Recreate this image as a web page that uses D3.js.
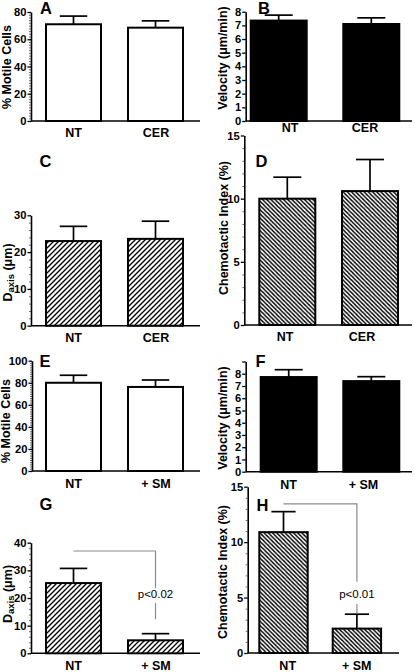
<!DOCTYPE html>
<html><head><meta charset="utf-8">
<script src="https://cdn.jsdelivr.net/npm/d3@7/dist/d3.min.js"></script>
<style>body{margin:0;background:#fff}svg{display:block}</style>
</head><body>
<script>
// ---------- data ----------
const groupsCER = ["NT", "CER"];
const groupsSM = ["NT", "+ SM"];

const motileCER = [71, 68.5];
const motileCERErr = [6, 5];
const velocityCER = [7.35, 7.1];
const velocityCERErr = [0.4, 0.45];
const daxisCER = [23, 23.6];
const daxisCERErr = [4, 4.8];
const chemoCER = [10.0, 10.6];
const chemoCERErr = [1.7, 2.5];

const motileSM = [80, 76.2];
const motileSMErr = [6.8, 6.3];
const velocitySM = [7.73, 7.4];
const velocitySMErr = [0.6, 0.36];
const daxisSM = [25.4, 4.7];
const daxisSMErr = [5.3, 2.4];
const chemoSM = [10.9, 2.2];
const chemoSMErr = [1.85, 1.3];

const ticksMotileCER = [0, 20, 40, 60, 80];
const ticksVelocityCER = [0, 1, 2, 3, 4, 5, 6, 7, 8];
const ticksDaxisCER = [0, 10, 20, 30];
const ticksChemoCER = [0, 5, 10, 15];
const ticksMotileSM = [0, 20, 40, 60, 80, 100];
const ticksVelocitySM = [0, 1, 2, 3, 4, 5, 6, 7, 8];
const ticksDaxisSM = [0, 10, 20, 30, 40];
const ticksChemoSM = [0, 5, 10, 15];

const sigDaxisSM = {label: "p<0.02", top: 37, gapTop: 23.6, textAt: 21.4, gapBottom: 18.2, end: 12.3};
const sigChemoSM = {label: "p<0.01", top: 13.45, gapTop: 6.43, textAt: 5.35, gapBottom: 4.42, end: 3.58};

// ---------- layout ----------
const W = 415, H = 672;
const FONT = "'Liberation Sans', Arial, sans-serif";
const svg = d3.select("body").append("svg").attr("width", W).attr("height", H)
  .style("font-family", FONT);

const defs = svg.append("defs");
function hatch(id, w, dir) {
  const p = defs.append("pattern").attr("id", id).attr("patternUnits", "userSpaceOnUse")
    .attr("width", w).attr("height", w);
  p.append("rect").attr("width", w).attr("height", w).attr("fill", "#fff");
  const d = dir === "/"
    ? `M0,${w} L${w},0 M${-w/2},${w/2} L${w/2},${-w/2} M${w/2},${w*1.5} L${w*1.5},${w/2}`
    : `M0,0 L${w},${w} M${-w/2},${w/2} L${w/2},${w*1.5} M${w/2},${-w/2} L${w*1.5},${w/2}`;
  p.append("path").attr("d", d).attr("stroke", "#000").attr("stroke-width", 1.35);
}
hatch("hatchFwd", 5, "/");
hatch("hatchBack", 4.2, "\\");

const panels = [
  {letter: "A", letterX: 40, letterY: 14, groups: groupsCER, values: motileCER, errs: motileCERErr,
   max: 80, ticks: ticksMotileCER, minor: 2, fill: "#fff", title: "% Motile Cells", titleX: 11, titleY: 67,
   axisX: 31, yTop: 12, y0: 121, barLeft: 46, barW: 55, gap: 27, axisEnd: 200, labelOff: 15.5, labelX: [73.5, 156]},
  {letter: "B", letterX: 258, letterY: 14, groups: groupsCER, values: velocityCER, errs: velocityCERErr,
   max: 8, ticks: ticksVelocityCER, minor: null, fill: "#000", title: "Velocity (\u03bcm/min)", titleX: 227, titleY: 58,
   axisX: 245.7, yTop: 11.7, y0: 121, barLeft: 250.7, barW: 56, gap: 36.6, axisEnd: 412, labelOff: 10.7, labelX: [290, 365]},
  {letter: "C", letterX: 39.5, letterY: 167, groups: groupsCER, values: daxisCER, errs: daxisCERErr,
   max: 30, ticks: ticksDaxisCER, minor: 2, fill: "url(#hatchFwd)", title: "DAXIS", titleX: 11.5, titleY: 272.5,
   axisX: 31, yTop: 215.3, y0: 325.7, barLeft: 46, barW: 55, gap: 27, axisEnd: 200, labelOff: 16, labelX: [73.5, 156]},
  {letter: "D", letterX: 255.5, letterY: 167, groups: groupsCER, values: chemoCER, errs: chemoCERErr,
   max: 15, ticks: ticksChemoCER, minor: 1, fill: "url(#hatchBack)", title: "Chemotactic Index (%)", titleX: 227.5, titleY: 228,
   axisX: 244.3, yTop: 135.5, y0: 325, barLeft: 259.3, barW: 56, gap: 26.7, axisEnd: 412, labelOff: 15.5, labelX: [285, 362]},
  {letter: "E", letterX: 39.5, letterY: 367, groups: groupsSM, values: motileSM, errs: motileSMErr,
   max: 100, ticks: ticksMotileSM, minor: 2, fill: "#fff", title: "% Motile Cells", titleX: 10, titleY: 421,
   axisX: 32, yTop: 360.7, y0: 471, barLeft: 46, barW: 55, gap: 27, axisEnd: 200, labelOff: 17, labelX: [73.5, 156]},
  {letter: "F", letterX: 255.5, letterY: 367, groups: groupsSM, values: velocitySM, errs: velocitySMErr,
   max: 9, ticks: ticksVelocitySM, minor: null, fill: "#000", title: "Velocity (\u03bcm/min)", titleX: 227, titleY: 418,
   axisX: 245.7, yTop: 361.5, y0: 471.7, barLeft: 260.7, barW: 56, gap: 26.6, axisEnd: 412, labelOff: 17.5, labelX: [288.5, 363.5]},
  {letter: "G", letterX: 39.5, letterY: 510, groups: groupsSM, values: daxisSM, errs: daxisSMErr,
   max: 40, ticks: ticksDaxisSM, minor: 2, fill: "url(#hatchFwd)", title: "DAXIS", titleX: 11.5, titleY: 594,
   axisX: 31, yTop: 542.7, y0: 653.3, barLeft: 46, barW: 55, gap: 27, axisEnd: 200, labelOff: 16.7, labelX: [73.5, 156], sig: sigDaxisSM},
  {letter: "H", letterX: 256.5, letterY: 510.5, groups: groupsSM, values: chemoSM, errs: chemoSMErr,
   max: 15, ticks: ticksChemoSM, minor: 1, fill: "url(#hatchBack)", title: "Chemotactic Index (%)", titleX: 226.5, titleY: 572,
   axisX: 247.7, yTop: 486.7, y0: 653, barLeft: 259.3, barW: 48.4, gap: 25, axisEnd: 399, labelOff: 17, labelX: [287.7, 356.7], sig: sigChemoSM}
];

panels.forEach(cfg => {
  const g = svg.append("g");
  const y = d3.scaleLinear().domain([0, cfg.max]).range([cfg.y0, cfg.yTop]);
  const step = cfg.barW + cfg.gap;
  const r0 = cfg.barLeft - cfg.gap / 2;
  const x = d3.scaleBand().domain(cfg.groups).range([r0, r0 + cfg.groups.length * step])
    .paddingInner(cfg.gap / step).paddingOuter(cfg.gap / (2 * step));

  // y axis (major)
  const tickVals = cfg.ticks.slice();
  if (tickVals[tickVals.length - 1] < cfg.max) tickVals.push(cfg.max);
  const yAxis = d3.axisLeft(y).tickValues(tickVals).tickSize(3.5).tickSizeOuter(0).tickPadding(1)
    .tickFormat(d => cfg.ticks.includes(d) ? d : "");
  const ya = g.append("g").attr("transform", `translate(${cfg.axisX},0)`).call(yAxis);
  ya.select(".domain").attr("stroke", "#000").attr("stroke-width", 1.6);
  ya.selectAll(".tick line").attr("stroke", "#000").attr("stroke-width", 1.3);
  ya.selectAll(".tick text").attr("font-size", 11.2).attr("font-weight", "bold").attr("fill", "#000")
    .attr("font-family", FONT);

  if (cfg.minor) {
    const minorVals = d3.range(0, cfg.max + 1e-9, cfg.minor).filter(v => !tickVals.includes(v));
    const ma = g.append("g").attr("transform", `translate(${cfg.axisX},0)`)
      .call(d3.axisLeft(y).tickValues(minorVals).tickSize(2).tickSizeOuter(0).tickFormat(""));
    ma.select(".domain").remove();
    ma.selectAll(".tick line").attr("stroke", "#444").attr("stroke-width", 0.8);
  }

  // x axis line
  g.append("line").attr("x1", cfg.axisX).attr("x2", cfg.axisEnd).attr("y1", cfg.y0).attr("y2", cfg.y0)
    .attr("stroke", "#000").attr("stroke-width", 1.6);

  // error bars
  const capW = x.bandwidth() * 0.5;
  cfg.values.forEach((v, i) => {
    const cx = x(cfg.groups[i]) + x.bandwidth() / 2;
    g.append("line").attr("x1", cx).attr("x2", cx).attr("y1", y(v)).attr("y2", y(v + cfg.errs[i]))
      .attr("stroke", "#000").attr("stroke-width", 1.7);
    g.append("line").attr("x1", cx - capW / 2).attr("x2", cx + capW / 2)
      .attr("y1", y(v + cfg.errs[i])).attr("y2", y(v + cfg.errs[i]))
      .attr("stroke", "#000").attr("stroke-width", 1.7);
  });

  // bars
  g.selectAll("rect.bar").data(cfg.values).join("rect").attr("class", "bar")
    .attr("x", (d, i) => x(cfg.groups[i]))
    .attr("y", d => y(d))
    .attr("width", x.bandwidth())
    .attr("height", d => cfg.y0 - y(d))
    .attr("fill", cfg.fill).attr("stroke", "#000").attr("stroke-width", 2);

  // category labels
  g.selectAll("text.cat").data(cfg.groups).join("text").attr("class", "cat")
    .attr("x", (d, i) => cfg.labelX[i])
    .attr("y", cfg.y0 + cfg.labelOff)
    .attr("text-anchor", "middle").attr("font-size", 12.5).attr("font-weight", "bold")
    .text(d => d);

  // y title (titleX = baseline position)
  const t = g.append("text").attr("transform", `translate(${cfg.titleX},${cfg.titleY}) rotate(-90)`)
    .attr("text-anchor", "middle")
    .attr("font-size", 12.5).attr("font-weight", "bold");
  if (cfg.title === "DAXIS") {
    t.append("tspan").text("D");
    t.append("tspan").attr("font-size", 9.5).attr("dy", 2).text("axis");
    t.append("tspan").attr("dy", -2).text(" (\u03bcm)");
  } else {
    t.text(cfg.title);
  }

  // panel letter
  g.append("text").attr("x", cfg.letterX).attr("y", cfg.letterY)
    .attr("font-size", 16.5).attr("font-weight", "bold").text(cfg.letter);

  // significance bracket
  if (cfg.sig) {
    const s = cfg.sig;
    const x1 = x(cfg.groups[0]) + x.bandwidth() / 2;
    const x2 = x(cfg.groups[1]) + x.bandwidth() / 2;
    const col = "#8a8a8a";
    g.append("path").attr("d", `M${x1},${y(s.top)} H${x2} V${y(s.gapTop)}`)
      .attr("fill", "none").attr("stroke", col).attr("stroke-width", 1.2);
    g.append("line").attr("x1", x2).attr("x2", x2).attr("y1", y(s.gapBottom)).attr("y2", y(s.end))
      .attr("stroke", col).attr("stroke-width", 1.2);
    g.append("text").attr("x", x2).attr("y", y(s.textAt)).attr("text-anchor", "middle")
      .attr("dominant-baseline", "central").attr("font-size", 11.5).attr("fill", "#000")
      .text(s.label);
  }
});
</script>
</body></html>
